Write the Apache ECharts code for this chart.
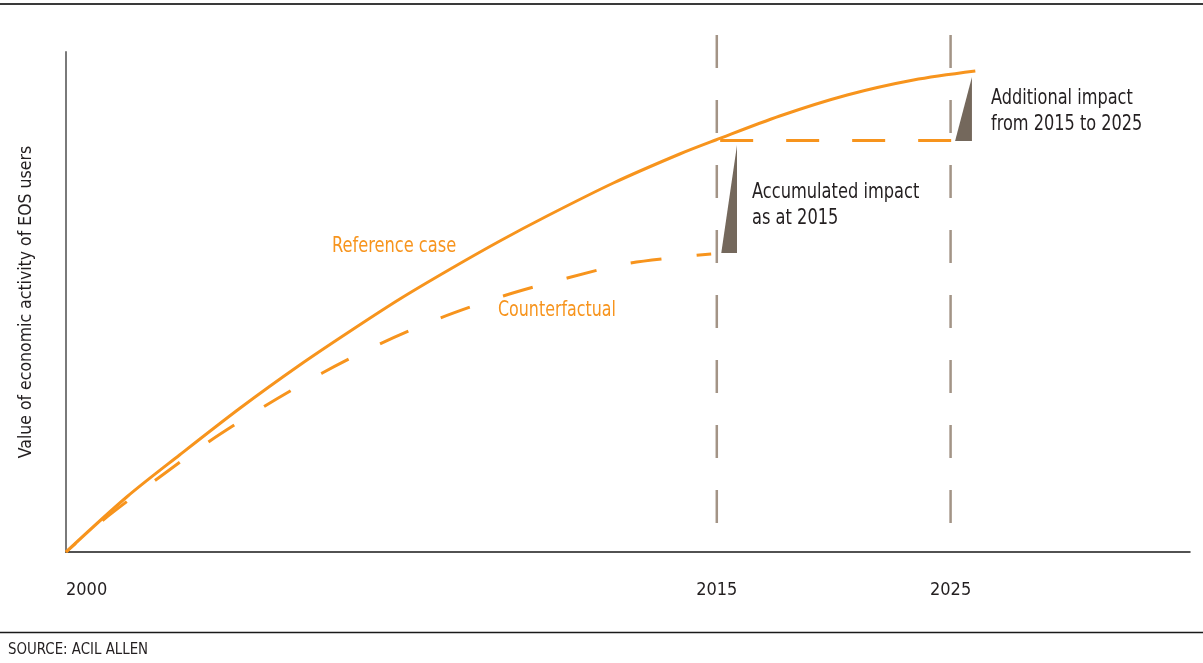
<!DOCTYPE html>
<html>
<head>
<meta charset="utf-8">
<script src="https://cdn.jsdelivr.net/npm/echarts@6/dist/echarts.min.js"></script>
<style>
html,body{margin:0;padding:0;background:#fff;}
#chart{width:1203px;height:663px;}
</style>
</head>
<body>
<div id="chart"></div>
<script>
// Schematic time position (0 = 2000) on a 0-100 scale, values on a 0-100 scale
const tickPositions = [0, 57.9, 78.7];
const tickLabels = ['2000', '2015', '2025'];

const referenceX = [0, 5.4, 10.1, 15.5, 20.8, 25.3, 29.7, 34.2, 38.6, 42.8, 48.7, 54.6, 57.8, 63.5, 69.5, 75.4, 80.9];
const referenceY = [0, 11, 19.4, 28.8, 37.4, 44.2, 50.6, 56.6, 62.2, 67.2, 73.8, 79.6, 82.4, 87.2, 91.4, 94.4, 96.2];

const counterX = [0, 3.3, 8.1, 12.8, 17.7, 22.8, 27.9, 33.3, 38.9, 44.6, 50.2, 57.4];
const counterY = [0, 6.4, 14.6, 22.2, 29.2, 35.8, 41.6, 46.8, 51.2, 54.8, 57.8, 59.6];

const level2015X = [58.2, 78.8];
const level2015Y = [82.3, 82.3];

const guideTop = 103.4;
const guideBottom = 4.4;

const accumulatedTriangle = [[58.3, 59.8], [59.7, 59.8], [59.7, 81.4]];
const additionalTriangle = [[79.1, 82.2], [80.6, 82.2], [80.6, 95.0]];
const triangles = [accumulatedTriangle, additionalTriangle];

const FONT = "'Liberation Sans Narrow', 'Arial Narrow', 'DejaVu Sans Condensed', sans-serif";
const ORANGE = '#F7941D';
const TEXT = '#231F20';
const GUIDE = '#A39486';
const TRI = '#74685C';

const zip = (xs, ys) => xs.map((x, i) => [x, ys[i]]);

const chart = echarts.init(document.getElementById('chart'), null, {renderer: 'canvas'});

chart.setOption({
  animation: false,
  backgroundColor: '#fff',
  grid: {left: 66, right: 13, top: 52, bottom: 111, containLabel: false},
  xAxis: {
    type: 'value', min: 0, max: 100,
    axisLine: {show: true, onZero: false, lineStyle: {color: '#1a1a1a', width: 1.5}},
    axisTick: {show: false},
    splitLine: {show: false},
    axisLabel: {
      customValues: tickPositions,
      formatter: v => tickLabels[tickPositions.indexOf(v)] ?? '',
      margin: 29,
      fontFamily: FONT, fontSize: 18, color: TEXT,
      alignMinLabel: 'left'
    }
  },
  yAxis: {
    type: 'value', min: 0, max: 100,
    name: 'Value of economic activity of EOS users',
    nameLocation: 'middle', nameRotate: 90, nameGap: 31,
    nameTextStyle: {fontFamily: FONT, fontSize: 17.5, color: TEXT},
    axisLine: {show: true, lineStyle: {color: '#7a7a7a', width: 2}},
    axisTick: {show: false},
    axisLabel: {show: false},
    splitLine: {show: false}
  },
  series: [
    {
      type: 'line', name: 'guide2015', clip: false, symbol: 'none', silent: true,
      data: [[tickPositions[1], guideTop], [tickPositions[1], guideBottom]],
      lineStyle: {color: GUIDE, width: 2.5, type: [33, 32]}
    },
    {
      type: 'line', name: 'guide2025', clip: false, symbol: 'none', silent: true,
      data: [[tickPositions[2], guideTop], [tickPositions[2], guideBottom]],
      lineStyle: {color: GUIDE, width: 2.5, type: [33, 32]}
    },
    {
      type: 'line', name: 'Counterfactual', symbol: 'none', smooth: 0.3,
      data: zip(counterX, counterY),
      lineStyle: {color: ORANGE, width: 3, type: [31, 35], dashOffset: 18}
    },
    {
      type: 'line', name: 'Level 2015', symbol: 'none',
      data: zip(level2015X, level2015Y),
      lineStyle: {color: ORANGE, width: 3, type: [33, 33]}
    },
    {
      type: 'line', name: 'Reference case', symbol: 'none', smooth: 0.3,
      data: zip(referenceX, referenceY),
      lineStyle: {color: ORANGE, width: 3}
    },
    {
      type: 'custom', name: 'impacts',
      data: triangles.map((t, i) => [t[0][0], t[0][1], i]),
      renderItem: (params, api) => {
        const tri = triangles[api.value(2)];
        return {
          type: 'polygon',
          shape: {points: tri.map(p => api.coord(p))},
          style: {fill: TRI}
        };
      }
    }
  ],
  graphic: [
    {type: 'line', shape: {x1: 0, y1: 4, x2: 1203, y2: 4}, style: {stroke: '#3a3a3a', lineWidth: 2}},
    {type: 'line', shape: {x1: 0, y1: 632.5, x2: 1203, y2: 632.5}, style: {stroke: '#1a1a1a', lineWidth: 1.5}},
    {type: 'text', x: 8, y: 641, scaleX: 0.9, style: {text: 'SOURCE: ACIL ALLEN', font: '16.5px ' + FONT, fill: TEXT}},
    {type: 'text', x: 332, y: 236, scaleX: 0.86, style: {text: 'Reference case', font: '21px ' + FONT, fill: ORANGE}},
    {type: 'text', x: 498, y: 300, scaleX: 0.84, style: {text: 'Counterfactual', font: '21px ' + FONT, fill: ORANGE}},
    {type: 'text', x: 752, y: 180, scaleX: 0.86, style: {text: 'Accumulated impact\nas at 2015', font: '21px ' + FONT, fill: TEXT, lineHeight: 26}},
    {type: 'text', x: 991, y: 86, scaleX: 0.855, style: {text: 'Additional impact\nfrom 2015 to 2025', font: '21px ' + FONT, fill: TEXT, lineHeight: 26}}
  ]
});
</script>
</body>
</html>
